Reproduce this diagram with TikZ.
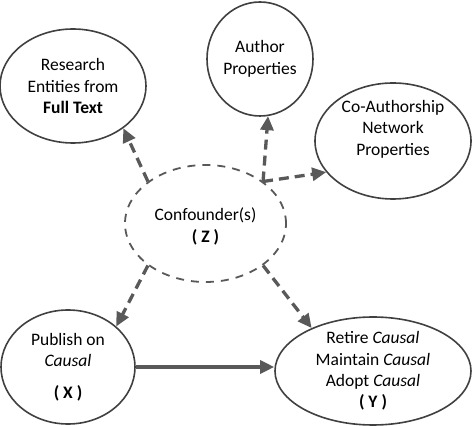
\documentclass[tikz,border=0pt]{standalone}
\usepackage{fontspec}
\setmainfont{Carlito}
\usetikzlibrary{shapes.geometric,arrows.meta}
\definecolor{rim}{HTML}{404040}
\definecolor{arr}{HTML}{595959}
\begin{document}
\begin{tikzpicture}[x=1pt,y=1pt,
    bubble/.style={ellipse,draw=rim,line width=1.6pt,inner sep=0pt},
    txt/.style={align=center,font=\fontsize{17.5}{21.5}\selectfont},
    link/.style={draw=arr,line width=3.3pt,-{Triangle[length=14pt,width=13pt]}},
    dlink/.style={link,dash pattern=on 10pt off 6pt}]
    \useasboundingbox (0,0) rectangle (472,426);
    % variables
    \node[bubble,minimum width=146,minimum height=114] (res) at (73,340) {};
    \node[txt] (res-t) at (res) {Research\\Entities from\\\textbf{Full Text}};
    \node[bubble,minimum width=106,minimum height=114] (auth) at (260,367) {};
    \node[txt] (auth-t) at (auth) {Author\\Properties};
    \node[bubble,minimum width=156,minimum height=116] (coa) at (393,285) {};
    \node[txt] (coa-t) at ([yshift=12]coa.center) {Co-Authorship\\Network\\Properties};
    \node[bubble,draw=arr,line width=1.8pt,dash pattern=on 8pt off 7pt,minimum width=161,minimum height=117] (conf) at (205.5,202.5) {};
    \node[txt] (conf-t) at ([yshift=-3]conf.center) {Confounder(s)\\\textbf{( Z )}};
    \node[bubble,minimum width=134,minimum height=114] (pub) at (68,59) {};
    \node[txt] (pub-t) at (pub) {Publish on\\\textit{Causal}\\[10pt]\textbf{( X )}};
    \node[bubble,minimum width=196,minimum height=108] (yn) at (373,55) {};
    \node[txt] (yn-t) at (yn) {Retire \textit{Causal}\\Maintain \textit{Causal}\\Adopt \textit{Causal}\\\textbf{( Y )}};
    % edges
    \draw[dlink] (conf.north west) -- (res.-40);
    \draw[dlink] (conf.north east) -- (auth.-82);
    \draw[dlink] (conf.north east) -- (coa.205);
    \draw[dlink] (conf.south west) -- (pub.40);
    \draw[dlink] (conf.south east) -- (yn.145);
    \draw[link] (pub.east) -- (pub.east -| yn.west);
\end{tikzpicture}
\end{document}
